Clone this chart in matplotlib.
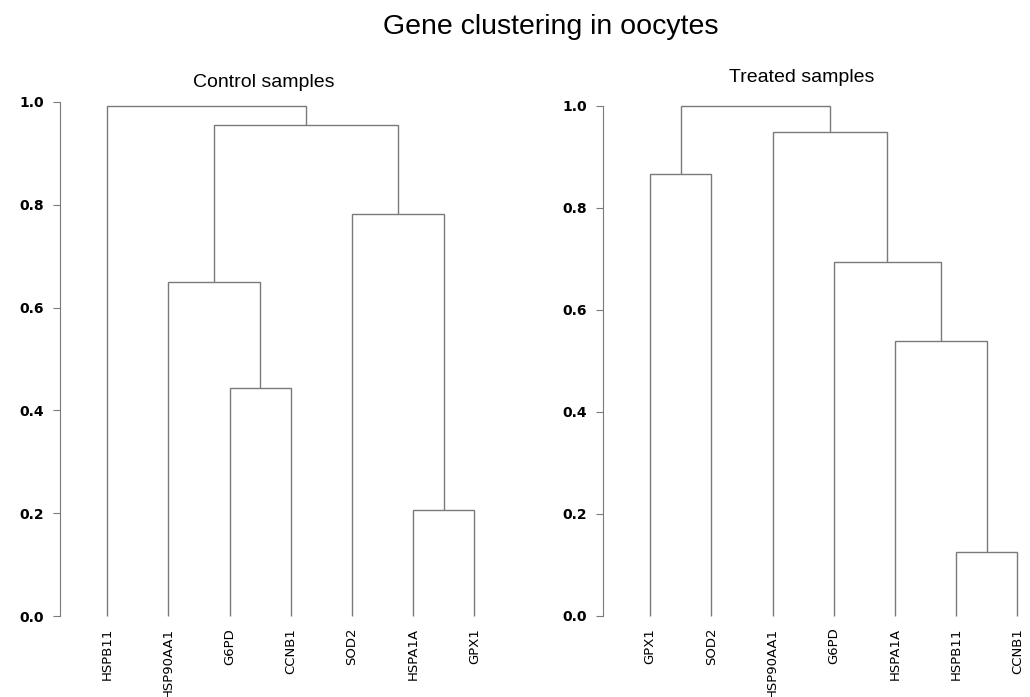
import matplotlib.pyplot as plt

# Control samples: leaf order and merges (R hclust style: -i = leaf i, +k = merge step k)
ctrl_leaves = ["HSPB11", "HSP90AA1", "G6PD", "CCNB1", "SOD2", "HSPA1A", "GPX1"]
ctrl_merge = [(-6, -7), (-3, -4), (-2, 2), (-5, 1), (3, 4), (-1, 5)]
ctrl_height = [0.207, 0.443, 0.650, 0.782, 0.955, 0.992]

# Treated samples
trt_leaves = ["GPX1", "SOD2", "HSP90AA1", "G6PD", "HSPA1A", "HSPB11", "CCNB1"]
trt_merge = [(-6, -7), (-5, 1), (-4, 2), (-1, -2), (-3, 3), (4, 5)]
trt_height = [0.125, 0.538, 0.694, 0.866, 0.948, 1.0]

yticks = [0.0, 0.2, 0.4, 0.6, 0.8, 1.0]

W, H = 1030, 697
fig = plt.figure(figsize=(W / 100, H / 100), dpi=100)
line_col = "#7a7a7a"
X0, X1 = 0.225, 7.5   # x range in leaf units
STEP = 61.2           # pixels per leaf


def px_axes(left, top, bottom):
    right = left + (X1 - X0) * STEP
    return fig.add_axes([left / W, 1 - bottom / H, (right - left) / W, (bottom - top) / H])


def draw_dendro(ax, leaves, merge, height):
    node_x, node_y = [], []

    def pos(idx):
        if idx < 0:
            return -idx, 0.0
        return node_x[idx - 1], node_y[idx - 1]

    for (a, b), h in zip(merge, height):
        xa, ya = pos(a)
        xb, yb = pos(b)
        ax.plot([xa, xa, xb, xb], [ya, h, h, yb], color=line_col, lw=1.0,
                solid_capstyle="butt", solid_joinstyle="miter")
        node_x.append((xa + xb) / 2)
        node_y.append(h)

    ax.set_xlim(X0, X1)
    ax.set_ylim(-0.04, 1.04)
    for s in ["top", "right", "bottom"]:
        ax.spines[s].set_visible(False)
    ax.spines["left"].set_bounds(0, 1)
    ax.spines["left"].set_color(line_col)
    ax.set_xticks([])
    ax.set_yticks(yticks)
    ax.set_yticklabels(["%.1f" % v for v in yticks], fontsize=10,
                       fontweight="bold", family="DejaVu Sans")
    ax.tick_params(axis="y", length=5, width=0.8, color=line_col, pad=6.5)
    for i, lab in enumerate(leaves):
        ax.text(i + 1, -0.023, lab, rotation=90, ha="center", va="top",
                fontsize=9.5, family="DejaVu Sans", color="black")
    ax.patch.set_alpha(0)


ax1 = px_axes(59.7, 81.4, 636.6)
draw_dendro(ax1, ctrl_leaves, ctrl_merge, ctrl_height)

ax2 = px_axes(602.7, 85.3, 636.4)
draw_dendro(ax2, trt_leaves, trt_merge, trt_height)

fig.text(551 / W, 1 - 33.5 / H, "Gene clustering in oocytes", ha="center",
         va="baseline", fontsize=20.5, family="Liberation Sans")
fig.text(263.3 / W, 1 - 86.7 / H, "Control samples", ha="center",
         va="baseline", fontsize=14, family="Liberation Sans")
fig.text(802 / W, 1 - 82.3 / H, "Treated samples", ha="center",
         va="baseline", fontsize=14, family="Liberation Sans")

fig.savefig("out.png", dpi=100)
